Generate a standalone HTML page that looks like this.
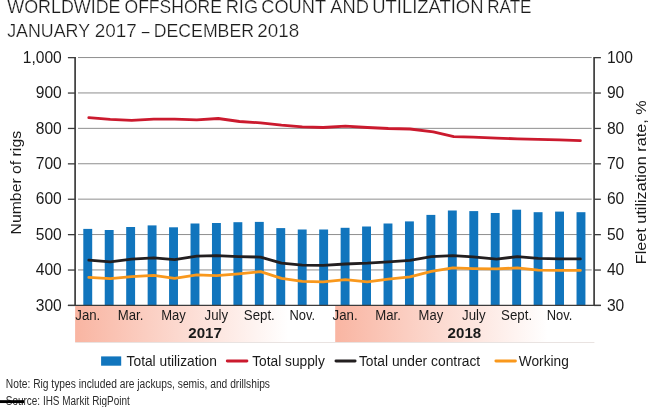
<!DOCTYPE html>
<html><head><meta charset="utf-8"><title>Worldwide offshore rig count and utilization rate</title>
<style>
html,body{margin:0;padding:0;background:#fff;}
body{width:650px;height:407px;overflow:hidden;font-family:"Liberation Sans",sans-serif;}
svg{display:block;will-change:transform;}
text{font-family:"Liberation Sans",sans-serif;}
</style></head><body>
<svg width="650" height="407" viewBox="0 0 650 407">
<defs>
<linearGradient id="pg" x1="0" y1="0" x2="1" y2="0">
<stop offset="0" stop-color="#f9b5a2"/><stop offset="0.82" stop-color="#ffffff"/><stop offset="1" stop-color="#ffffff"/>
</linearGradient>
</defs>
<rect width="650" height="407" fill="#fff"/>
<text x="7.29" y="13.0" font-size="18.1" fill="#1c1c1c" stroke="#fff" stroke-width="0.22" textLength="113.24" lengthAdjust="spacingAndGlyphs">WORLDWIDE</text>
<text x="124.53" y="13.0" font-size="18.1" fill="#1c1c1c" stroke="#fff" stroke-width="0.22" textLength="97.43" lengthAdjust="spacingAndGlyphs">OFFSHORE</text>
<text x="225.66" y="13.0" font-size="18.1" fill="#1c1c1c" stroke="#fff" stroke-width="0.22" textLength="32.43" lengthAdjust="spacingAndGlyphs">RIG</text>
<text x="261.30" y="13.0" font-size="18.1" fill="#1c1c1c" stroke="#fff" stroke-width="0.22" textLength="64.73" lengthAdjust="spacingAndGlyphs">COUNT</text>
<text x="330.26" y="13.0" font-size="18.1" fill="#1c1c1c" stroke="#fff" stroke-width="0.22" textLength="38.60" lengthAdjust="spacingAndGlyphs">AND</text>
<text x="372.29" y="13.0" font-size="18.1" fill="#1c1c1c" stroke="#fff" stroke-width="0.22" textLength="111.23" lengthAdjust="spacingAndGlyphs">UTILIZATION</text>
<text x="487.28" y="13.0" font-size="18.1" fill="#1c1c1c" stroke="#fff" stroke-width="0.22" textLength="44.21" lengthAdjust="spacingAndGlyphs">RATE</text>
<text x="7.15" y="36.6" font-size="18.1" fill="#1c1c1c" stroke="#fff" stroke-width="0.22" textLength="82.92" lengthAdjust="spacingAndGlyphs">JANUARY</text>
<text x="94.66" y="36.6" font-size="18.1" fill="#1c1c1c" stroke="#fff" stroke-width="0.22" textLength="42.06" lengthAdjust="spacingAndGlyphs">2017</text>
<text x="141.70" y="36.6" font-size="18.1" fill="#1c1c1c" stroke="#fff" stroke-width="0.22" textLength="7.75" lengthAdjust="spacingAndGlyphs">–</text>
<text x="153.77" y="36.6" font-size="18.1" fill="#1c1c1c" stroke="#fff" stroke-width="0.22" textLength="100.20" lengthAdjust="spacingAndGlyphs">DECEMBER</text>
<text x="257.28" y="36.6" font-size="18.1" fill="#1c1c1c" stroke="#fff" stroke-width="0.22" textLength="41.92" lengthAdjust="spacingAndGlyphs">2018</text>
<line x1="78" x2="591.7" y1="269.95" y2="269.95" stroke="#8e8e8e" stroke-width="1"/>
<line x1="78" x2="591.7" y1="234.55" y2="234.55" stroke="#8e8e8e" stroke-width="1"/>
<line x1="78" x2="591.7" y1="199.15" y2="199.15" stroke="#8e8e8e" stroke-width="1"/>
<line x1="78" x2="591.7" y1="163.75" y2="163.75" stroke="#8e8e8e" stroke-width="1"/>
<line x1="78" x2="591.7" y1="128.35" y2="128.35" stroke="#8e8e8e" stroke-width="1"/>
<line x1="78" x2="591.7" y1="92.95" y2="92.95" stroke="#8e8e8e" stroke-width="1"/>
<line x1="78" x2="591.7" y1="57.55" y2="57.55" stroke="#8e8e8e" stroke-width="1"/>
<rect x="75.1" y="305.6" width="259.9" height="36.7" fill="url(#pg)"/>
<rect x="335.2" y="305.6" width="259.2" height="36.7" fill="url(#pg)"/>
<line x1="75.4" x2="594.4" y1="342.5" y2="342.5" stroke="#e9e3e1" stroke-width="1"/>
<rect x="83.30" y="228.9" width="8.9" height="76.5" fill="#1175bd"/>
<rect x="104.74" y="230.0" width="8.9" height="75.4" fill="#1175bd"/>
<rect x="126.19" y="227.0" width="8.9" height="78.4" fill="#1175bd"/>
<rect x="147.64" y="225.4" width="8.9" height="80.0" fill="#1175bd"/>
<rect x="169.08" y="227.3" width="8.9" height="78.1" fill="#1175bd"/>
<rect x="190.53" y="223.5" width="8.9" height="81.9" fill="#1175bd"/>
<rect x="211.97" y="223.0" width="8.9" height="82.4" fill="#1175bd"/>
<rect x="233.42" y="222.2" width="8.9" height="83.2" fill="#1175bd"/>
<rect x="254.86" y="221.9" width="8.9" height="83.5" fill="#1175bd"/>
<rect x="276.31" y="228.1" width="8.9" height="77.3" fill="#1175bd"/>
<rect x="297.75" y="229.5" width="8.9" height="75.9" fill="#1175bd"/>
<rect x="319.19" y="229.5" width="8.9" height="75.9" fill="#1175bd"/>
<rect x="340.64" y="227.8" width="8.9" height="77.6" fill="#1175bd"/>
<rect x="362.09" y="226.5" width="8.9" height="78.9" fill="#1175bd"/>
<rect x="383.53" y="223.5" width="8.9" height="81.9" fill="#1175bd"/>
<rect x="404.98" y="221.4" width="8.9" height="84.0" fill="#1175bd"/>
<rect x="426.42" y="214.9" width="8.9" height="90.5" fill="#1175bd"/>
<rect x="447.87" y="210.5" width="8.9" height="94.9" fill="#1175bd"/>
<rect x="469.31" y="211.1" width="8.9" height="94.3" fill="#1175bd"/>
<rect x="490.75" y="213.0" width="8.9" height="92.4" fill="#1175bd"/>
<rect x="512.20" y="209.7" width="8.9" height="95.8" fill="#1175bd"/>
<rect x="533.64" y="212.2" width="8.9" height="93.2" fill="#1175bd"/>
<rect x="555.09" y="211.6" width="8.9" height="93.8" fill="#1175bd"/>
<rect x="576.53" y="212.2" width="8.9" height="93.2" fill="#1175bd"/>
<path d="M88.8,117.6 L110.2,119.4 L131.7,120.3 L153.8,119.2 L174.6,119.2 L196.8,119.8 L218.2,118.5 L239.5,121.5 L260.6,122.9 L281.5,125.2 L302.3,126.9 L323.2,127.5 L345.4,126.2 L367.4,127.5 L388.3,128.5 L410.0,129.0 L433.3,131.9 L453.8,136.6 L473.1,137.2 L496.5,138.1 L517.3,138.8 L538.2,139.3 L559.2,139.9 L580.4,140.7" fill="none" stroke="#cb1a2e" stroke-width="2.8" stroke-linecap="round" stroke-linejoin="round"/>
<path d="M88.8,277.4 L110.2,278.6 L131.7,276.6 L153.8,275.4 L174.6,278.4 L196.8,274.8 L216.5,275.6 L238.5,273.8 L260.6,271.6 L281.5,278.4 L302.3,281.4 L323.2,281.8 L345.4,279.6 L367.4,281.8 L388.3,279.2 L410.0,276.9 L431.4,271.4 L452.8,267.9 L473.1,268.6 L496.5,268.9 L517.3,267.9 L538.2,270.1 L559.2,270.4 L580.4,270.4" fill="none" stroke="#f9981c" stroke-width="2.8" stroke-linecap="round" stroke-linejoin="round"/>
<path d="M88.8,260.1 L110.2,261.8 L131.7,259.1 L153.8,257.8 L174.6,259.6 L196.8,256.2 L216.5,255.7 L238.5,256.6 L260.6,257.1 L281.5,263.1 L302.3,265.1 L323.2,265.4 L345.4,264.0 L367.4,263.2 L388.3,261.8 L410.0,260.4 L431.4,256.6 L452.8,255.7 L473.1,256.9 L496.5,259.1 L517.3,256.6 L538.2,258.4 L559.2,258.9 L580.4,258.9" fill="none" stroke="#231f20" stroke-width="2.8" stroke-linecap="round" stroke-linejoin="round"/>
<line x1="75.1" x2="75.1" y1="57.0" y2="306.0" stroke="#3c3c3c" stroke-width="1.7"/>
<line x1="594.1" x2="594.1" y1="57.0" y2="306.0" stroke="#3c3c3c" stroke-width="1.7"/>
<line x1="67.9" x2="600.9" y1="305.45" y2="305.45" stroke="#3c3c3c" stroke-width="1.25"/>
<line x1="67.9" x2="75.1" y1="305.45" y2="305.45" stroke="#3c3c3c" stroke-width="1.3"/>
<line x1="594.1" x2="600.9" y1="305.45" y2="305.45" stroke="#3c3c3c" stroke-width="1.3"/>
<text x="61.8" y="310.55" font-size="15.6" fill="#1a1a1a" text-anchor="end">300</text>
<text x="606.9" y="310.55" font-size="15.6" fill="#1a1a1a">30</text>
<line x1="67.9" x2="75.1" y1="270.05" y2="270.05" stroke="#3c3c3c" stroke-width="1.3"/>
<line x1="594.1" x2="600.9" y1="270.05" y2="270.05" stroke="#3c3c3c" stroke-width="1.3"/>
<text x="61.8" y="275.15" font-size="15.6" fill="#1a1a1a" text-anchor="end">400</text>
<text x="606.9" y="275.15" font-size="15.6" fill="#1a1a1a">40</text>
<line x1="67.9" x2="75.1" y1="234.65" y2="234.65" stroke="#3c3c3c" stroke-width="1.3"/>
<line x1="594.1" x2="600.9" y1="234.65" y2="234.65" stroke="#3c3c3c" stroke-width="1.3"/>
<text x="61.8" y="239.75" font-size="15.6" fill="#1a1a1a" text-anchor="end">500</text>
<text x="606.9" y="239.75" font-size="15.6" fill="#1a1a1a">50</text>
<line x1="67.9" x2="75.1" y1="199.25" y2="199.25" stroke="#3c3c3c" stroke-width="1.3"/>
<line x1="594.1" x2="600.9" y1="199.25" y2="199.25" stroke="#3c3c3c" stroke-width="1.3"/>
<text x="61.8" y="204.35" font-size="15.6" fill="#1a1a1a" text-anchor="end">600</text>
<text x="606.9" y="204.35" font-size="15.6" fill="#1a1a1a">60</text>
<line x1="67.9" x2="75.1" y1="163.85" y2="163.85" stroke="#3c3c3c" stroke-width="1.3"/>
<line x1="594.1" x2="600.9" y1="163.85" y2="163.85" stroke="#3c3c3c" stroke-width="1.3"/>
<text x="61.8" y="168.95" font-size="15.6" fill="#1a1a1a" text-anchor="end">700</text>
<text x="606.9" y="168.95" font-size="15.6" fill="#1a1a1a">70</text>
<line x1="67.9" x2="75.1" y1="128.45" y2="128.45" stroke="#3c3c3c" stroke-width="1.3"/>
<line x1="594.1" x2="600.9" y1="128.45" y2="128.45" stroke="#3c3c3c" stroke-width="1.3"/>
<text x="61.8" y="133.55" font-size="15.6" fill="#1a1a1a" text-anchor="end">800</text>
<text x="606.9" y="133.55" font-size="15.6" fill="#1a1a1a">80</text>
<line x1="67.9" x2="75.1" y1="93.05" y2="93.05" stroke="#3c3c3c" stroke-width="1.3"/>
<line x1="594.1" x2="600.9" y1="93.05" y2="93.05" stroke="#3c3c3c" stroke-width="1.3"/>
<text x="61.8" y="98.15" font-size="15.6" fill="#1a1a1a" text-anchor="end">900</text>
<text x="606.9" y="98.15" font-size="15.6" fill="#1a1a1a">90</text>
<line x1="67.9" x2="75.1" y1="57.65" y2="57.65" stroke="#3c3c3c" stroke-width="1.3"/>
<line x1="594.1" x2="600.9" y1="57.65" y2="57.65" stroke="#3c3c3c" stroke-width="1.3"/>
<text x="61.8" y="62.75" font-size="15.6" fill="#1a1a1a" text-anchor="end">1,000</text>
<text x="606.9" y="62.75" font-size="15.6" fill="#1a1a1a">100</text>
<text transform="translate(20.6,182.7) rotate(-90)" font-size="15.3" fill="#1a1a1a" text-anchor="middle" textLength="103.5" lengthAdjust="spacingAndGlyphs">Number of rigs</text>
<text transform="translate(646.2,182.3) rotate(-90)" font-size="15.3" fill="#1a1a1a" text-anchor="middle" textLength="163.7" lengthAdjust="spacingAndGlyphs">Fleet utilization rate, %</text>
<text x="87.8" y="320.2" font-size="14" fill="#1a1a1a" text-anchor="middle" textLength="25.0" lengthAdjust="spacingAndGlyphs">Jan.</text>
<text x="130.6" y="320.2" font-size="14" fill="#1a1a1a" text-anchor="middle" textLength="25.6" lengthAdjust="spacingAndGlyphs">Mar.</text>
<text x="173.5" y="320.2" font-size="14" fill="#1a1a1a" text-anchor="middle" textLength="24.6" lengthAdjust="spacingAndGlyphs">May</text>
<text x="216.4" y="320.2" font-size="14" fill="#1a1a1a" text-anchor="middle" textLength="23.6" lengthAdjust="spacingAndGlyphs">July</text>
<text x="259.3" y="320.2" font-size="14" fill="#1a1a1a" text-anchor="middle" textLength="31.0" lengthAdjust="spacingAndGlyphs">Sept.</text>
<text x="302.2" y="320.2" font-size="14" fill="#1a1a1a" text-anchor="middle" textLength="25.6" lengthAdjust="spacingAndGlyphs">Nov.</text>
<text x="345.1" y="320.2" font-size="14" fill="#1a1a1a" text-anchor="middle" textLength="25.0" lengthAdjust="spacingAndGlyphs">Jan.</text>
<text x="388.0" y="320.2" font-size="14" fill="#1a1a1a" text-anchor="middle" textLength="25.6" lengthAdjust="spacingAndGlyphs">Mar.</text>
<text x="430.9" y="320.2" font-size="14" fill="#1a1a1a" text-anchor="middle" textLength="24.6" lengthAdjust="spacingAndGlyphs">May</text>
<text x="473.8" y="320.2" font-size="14" fill="#1a1a1a" text-anchor="middle" textLength="23.6" lengthAdjust="spacingAndGlyphs">July</text>
<text x="516.6" y="320.2" font-size="14" fill="#1a1a1a" text-anchor="middle" textLength="31.0" lengthAdjust="spacingAndGlyphs">Sept.</text>
<text x="559.5" y="320.2" font-size="14" fill="#1a1a1a" text-anchor="middle" textLength="25.6" lengthAdjust="spacingAndGlyphs">Nov.</text>
<text x="205.1" y="338.3" font-size="15.1" font-weight="bold" fill="#1a1a1a" text-anchor="middle">2017</text>
<text x="464.4" y="338.3" font-size="15.1" font-weight="bold" fill="#1a1a1a" text-anchor="middle">2018</text>
<rect x="101.1" y="356.4" width="20.1" height="9.3" fill="#1175bd"/>
<text x="126.6" y="366.1" font-size="15" fill="#1a1a1a" textLength="90.3" lengthAdjust="spacingAndGlyphs">Total utilization</text>
<line x1="227.3" x2="246.9" y1="360.9" y2="360.9" stroke="#cb1a2e" stroke-width="2.95" stroke-linecap="round"/>
<text x="252.2" y="366" font-size="14.7" fill="#1a1a1a" textLength="72.6" lengthAdjust="spacingAndGlyphs">Total supply</text>
<line x1="336.0" x2="355.1" y1="360.9" y2="360.9" stroke="#231f20" stroke-width="2.95" stroke-linecap="round"/>
<text x="358.9" y="366" font-size="14.7" fill="#1a1a1a" textLength="121.3" lengthAdjust="spacingAndGlyphs">Total under contract</text>
<line x1="495.9" x2="515.4" y1="360.9" y2="360.9" stroke="#f9981c" stroke-width="2.95" stroke-linecap="round"/>
<text x="518.8" y="366" font-size="14.7" fill="#1a1a1a" textLength="50" lengthAdjust="spacingAndGlyphs">Working</text>
<text x="5.8" y="388.4" font-size="12.3" fill="#2b2b2b" textLength="264.2" lengthAdjust="spacingAndGlyphs">Note: Rig types included are jackups, semis, and drillships</text>
<text x="5.8" y="404.8" font-size="12.3" fill="#2b2b2b" textLength="124" lengthAdjust="spacingAndGlyphs">Source: IHS Markit RigPoint</text>
<line x1="0" x2="24" y1="401.6" y2="401.6" stroke="#000" stroke-width="2.9"/>
</svg>
</body></html>
